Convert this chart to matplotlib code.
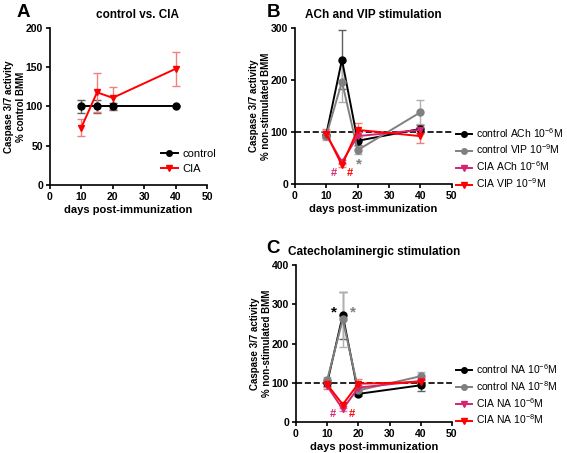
import matplotlib
matplotlib.use('Agg')
import matplotlib.pyplot as plt

plt.rcParams['font.family'] = ['Liberation Sans', 'DejaVu Sans']
plt.rcParams['mathtext.fontset'] = 'custom'
plt.rcParams['mathtext.rm'] = 'Liberation Sans'
plt.rcParams['mathtext.it'] = 'Liberation Sans'
plt.rcParams['mathtext.default'] = 'regular'

# Données
days = [10, 15, 20, 40]

# Panel A
ctrl_a = [100, 100, 100, 100]
ctrl_a_err = [8, 8, 4, 0]
cia_a = [73, 118, 111, 148]
cia_a_err = [11, 25, 14, 22]

# Panel B
ctrl_ach = [95, 239, 83, 106]
ctrl_ach_err = [6, 57, 8, 8]
ctrl_vip = [93, 197, 65, 138]
ctrl_vip_err = [8, 40, 8, 23]
cia_ach = [95, 42, 92, 104]
cia_ach_err = [6, 4, 8, 6]
cia_vip = [97, 36, 104, 92]
cia_vip_err = [8, 4, 13, 13]

# Panel C
ctrl_na6 = [100, 272, 72, 94]
ctrl_na6_err = [8, 60, 6, 15]
ctrl_na8 = [107, 262, 81, 117]
ctrl_na8_err = [8, 70, 6, 10]
cia_na6 = [92, 33, 88, 105]
cia_na6_err = [8, 4, 6, 6]
cia_na8 = [96, 45, 98, 102]
cia_na8_err = [6, 4, 12, 6]

labels_a = ['control', 'CIA']
labels_b = ['control ACh 10$^{-6}$M', 'control VIP 10$^{-9}$M',
            'CIA ACh 10$^{-6}$M', 'CIA VIP 10$^{-9}$M']
labels_c = ['control NA 10$^{-6}$M', 'control NA 10$^{-8}$M',
            'CIA NA 10$^{-6}$M', 'CIA NA 10$^{-8}$M']

BLACK = '#000000'
GRAY = '#808080'
MAGENTA = '#d6246e'
RED = '#ff0000'


def serie(ax, y, err, color, marker, ecolor=None):
    c = ax.errorbar(days, y, yerr=err, color=color, marker=marker, markersize=5,
                    linewidth=1.4, capsize=3, elinewidth=1, capthick=1,
                    ecolor=ecolor or color)
    return c.lines[0]


def style(ax, ymax, ystep):
    for s in ['top', 'right']:
        ax.spines[s].set_visible(False)
    ax.spines['left'].set_linewidth(1.2)
    ax.spines['bottom'].set_linewidth(1.2)
    ax.set_xlim(0, 50)
    ax.set_ylim(0, ymax)
    ax.set_xticks(range(0, 51, 10))
    ax.set_yticks(range(0, ymax + 1, ystep))
    ax.tick_params(direction='out', length=3, width=1.2, labelsize=7.5, pad=2)
    for t in ax.get_xticklabels() + ax.get_yticklabels():
        t.set_fontweight('bold')
    ax.set_xlabel('days post-immunization', fontsize=8, fontweight='bold', labelpad=2)


def legende(ax, handles, labels, size=8, spacing=0.3, **kw):
    ax.legend(handles, labels, frameon=False, fontsize=size, handlelength=1.5,
              handletextpad=0.4, labelspacing=spacing, markerscale=0.8,
              borderaxespad=0, **kw)


fig = plt.figure(figsize=(5.67, 4.53), dpi=100)

# A
axA = fig.add_axes([0.088, 0.592, 0.277, 0.346])
hA = [serie(axA, ctrl_a, ctrl_a_err, BLACK, 'o', ecolor='#606060'),
      serie(axA, cia_a, cia_a_err, RED, 'v', ecolor='#f08080')]
style(axA, 200, 50)
axA.set_ylabel('Caspase 3/7 activity\n% control BMM', fontsize=7, fontweight='bold', labelpad=0)
axA.set_title('control vs. CIA', fontsize=8.5, fontweight='bold', pad=7, x=0.56)
legende(axA, hA, labels_a, spacing=0.5, loc='lower left', bbox_to_anchor=(0.68, 0.04))

# B
axB = fig.add_axes([0.520, 0.594, 0.277, 0.344])
hB = [serie(axB, ctrl_ach, ctrl_ach_err, BLACK, 'o', ecolor='#606060'),
      serie(axB, ctrl_vip, ctrl_vip_err, GRAY, 'o', ecolor='#b0b0b0'),
      serie(axB, cia_ach, cia_ach_err, MAGENTA, 'v', ecolor='#e080a8'),
      serie(axB, cia_vip, cia_vip_err, RED, 'v', ecolor='#f08080')]
axB.axhline(100, color='black', linestyle='--', linewidth=1.2, zorder=0)
style(axB, 300, 100)
axB.set_ylabel('Caspase 3/7 activity\n% non-stimulated BMM', fontsize=7, fontweight='bold', labelpad=0)
axB.set_title('ACh and VIP stimulation', fontsize=8.5, fontweight='bold', pad=7)
axB.text(12.5, 16, '#', color=MAGENTA, fontsize=8, fontweight='bold', ha='center')
axB.text(17.5, 16, '#', color=RED, fontsize=8, fontweight='bold', ha='center')
axB.text(20.5, 30, '*', color=GRAY, fontsize=11, fontweight='bold', ha='center')
legende(axB, hB, labels_b, size=7.5, loc='upper left', bbox_to_anchor=(1.0, 0.40))

# C
axC = fig.add_axes([0.522, 0.068, 0.275, 0.347])
hC = [serie(axC, ctrl_na6, ctrl_na6_err, BLACK, 'o', ecolor='#606060'),
      serie(axC, ctrl_na8, ctrl_na8_err, GRAY, 'o', ecolor='#b0b0b0'),
      serie(axC, cia_na6, cia_na6_err, MAGENTA, 'v', ecolor='#e080a8'),
      serie(axC, cia_na8, cia_na8_err, RED, 'v', ecolor='#f08080')]
axC.axhline(100, color='black', linestyle='--', linewidth=1.2, zorder=0)
style(axC, 400, 100)
axC.set_ylabel('Caspase 3/7 activity\n% non-stimulated BMM', fontsize=7, fontweight='bold', labelpad=0)
axC.set_title('Catecholaminergic stimulation', fontsize=8.5, fontweight='bold', pad=7)
axC.text(12.3, 268, '*', color=BLACK, fontsize=11, fontweight='bold', ha='center')
axC.text(18.3, 268, '*', color=GRAY, fontsize=11, fontweight='bold', ha='center')
axC.text(12, 12, '#', color=MAGENTA, fontsize=8, fontweight='bold', ha='center')
axC.text(18, 12, '#', color=RED, fontsize=8, fontweight='bold', ha='center')
legende(axC, hC, labels_c, size=7.5, loc='upper left', bbox_to_anchor=(1.0, 0.41))

# Lettres des panneaux
fig.text(0.03, 0.9625, 'A', fontsize=13.5, fontweight='bold', va='baseline')
fig.text(0.471, 0.9625, 'B', fontsize=13.5, fontweight='bold', va='baseline')
fig.text(0.469, 0.4415, 'C', fontsize=13.5, fontweight='bold', va='baseline')

fig.savefig('out.png', dpi=100, facecolor='white')
